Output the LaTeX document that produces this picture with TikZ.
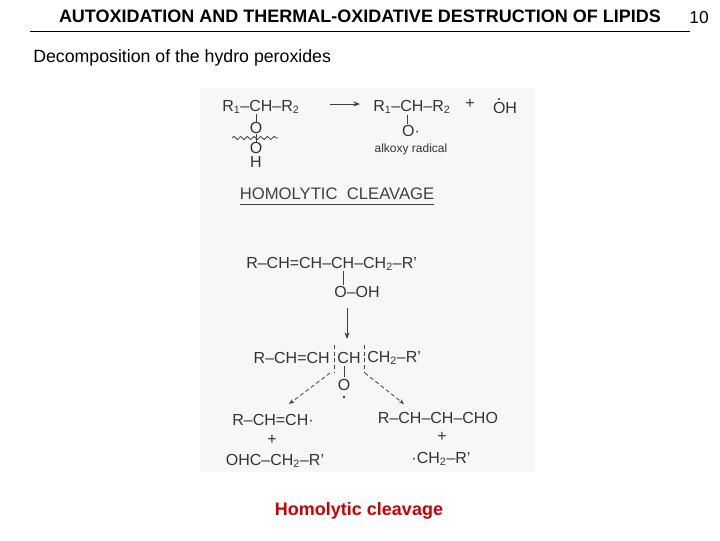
\documentclass[tikz,border=0pt]{standalone}
\usepackage{fontspec}
\setmainfont{Liberation Sans}
\usetikzlibrary{decorations.pathmorphing,arrows.meta}
\begin{document}
\begin{tikzpicture}[x=0.75pt,y=-0.75pt,
  chem/.style={inner sep=0pt,font=\fontsize{12}{14}\selectfont,text=black!80},
  small/.style={inner sep=0pt,font=\fontsize{9}{10}\selectfont,text=black!80},
  bond/.style={black!75,line width=0.6pt},
  darr/.style={black!75,densely dashed,line width=0.6pt,-{Stealth[length=4pt]}}]
\useasboundingbox (0,0) rectangle (720,540);
\fill[black!3] (200,88) rectangle (535,472);
\node[inner sep=0pt,font=\bfseries\fontsize{13.5}{15}\selectfont] (title) at (360,16) {AUTOXIDATION AND THERMAL-OXIDATIVE DESTRUCTION OF LIPIDS};
\node[inner sep=0pt,font=\fontsize{13}{15}\selectfont] (num) at (699,18) {10};
\coordinate (l1) at (30,31); \coordinate (l2) at (690,31);
\draw[line width=0.6pt] (l1) -- (l2);
\node[inner sep=0pt,font=\fontsize{13.3}{15}\selectfont,anchor=west] (sub) at (33,58) {Decomposition of the hydro peroxides};
% top reaction
\node[chem,anchor=west] (a1) at (222,107) {R\textsubscript{1}–CH–R\textsubscript{2}};
\node[chem] (a2) at (256,128) {O};
\node[chem] (a3) at (256,148) {O};
\node[chem] (a4) at (256,162) {H};
\draw[bond] (256,114) -- (a2.north);
\draw[bond] (a2.south) -- (a3.north);
\coordinate (w1) at (232,138); \coordinate (w2) at (278,138);
\draw[bond,decorate,decoration={snake,amplitude=1.2pt,segment length=5pt}] (w1) -- (w2);
\coordinate (ar1) at (330,104); \coordinate (ar2) at (360,104);
\draw[bond,-{Stealth[length=5pt]}] (ar1) -- (ar2);
\node[chem,anchor=west] (b1) at (373,107) {R\textsubscript{1}–CH–R\textsubscript{2}};
\node[chem] (b2) at (411,131) {O·};
\draw[bond] (407,115) -- (407,124);
\node[small] (b3) at (411,149) {alkoxy radical};
\node[chem] (plus1) at (470,104) {+};
\node[chem] (oh) at (505,108) {OH};
\fill[black!80] (499,99) circle (1.2);
\node[inner sep=0pt,font=\fontsize{12.5}{14}\selectfont,text=black!75] (hc) at (337,194) {HOMOLYTIC\ \ CLEAVAGE};
\coordinate (u1) at (240,204); \coordinate (u2) at (434,204);
\draw[bond] (u1) -- (u2);
% second scheme
\node[chem,anchor=west] (c1) at (246,264) {R–CH=CH–CH–CH\textsubscript{2}–R'};
\node[chem] (c2) at (357,292) {O–OH};
\draw[bond] (343,271) -- (343,285);
\coordinate (d1) at (347,308); \coordinate (d2) at (347,339);
\draw[bond,-{Stealth[length=5pt]}] (d1) -- (d2);
\node[chem,anchor=east] (e1) at (330,358) {R–CH=CH};
\node[chem] (e2) at (349,358) {CH};
\node[chem,anchor=west] (e3) at (367,358) {CH\textsubscript{2}–R'};
\draw[bond,densely dashed] (334,345) -- (334,372);
\draw[bond,densely dashed] (364,345) -- (364,372);
\draw[bond] (344,366) -- (344,377);
\node[chem] (e4) at (344,385) {O};
\fill[black!80] (344,397) circle (1.3);
\coordinate (f1) at (330,373); \coordinate (f2) at (289,404);
\coordinate (g1) at (365,373); \coordinate (g2) at (404,404);
\draw[darr] (f1) -- (f2);
\draw[darr] (g1) -- (g2);
\node[chem] (h1) at (273,420) {R–CH=CH·};
\node[chem] (h2) at (272,440) {+};
\node[chem] (h3) at (275,461) {OHC–CH\textsubscript{2}–R'};
\node[chem] (i1) at (438,418) {R–CH–CH–CHO};
\node[chem] (i2) at (442,437) {+};
\node[chem] (i3) at (441,459) {·CH\textsubscript{2}–R'};
\node[inner sep=0pt,font=\bfseries\fontsize{13.5}{15}\selectfont,text=red!80!black] (cap) at (359,511) {Homolytic cleavage};
\end{tikzpicture}
\end{document}
